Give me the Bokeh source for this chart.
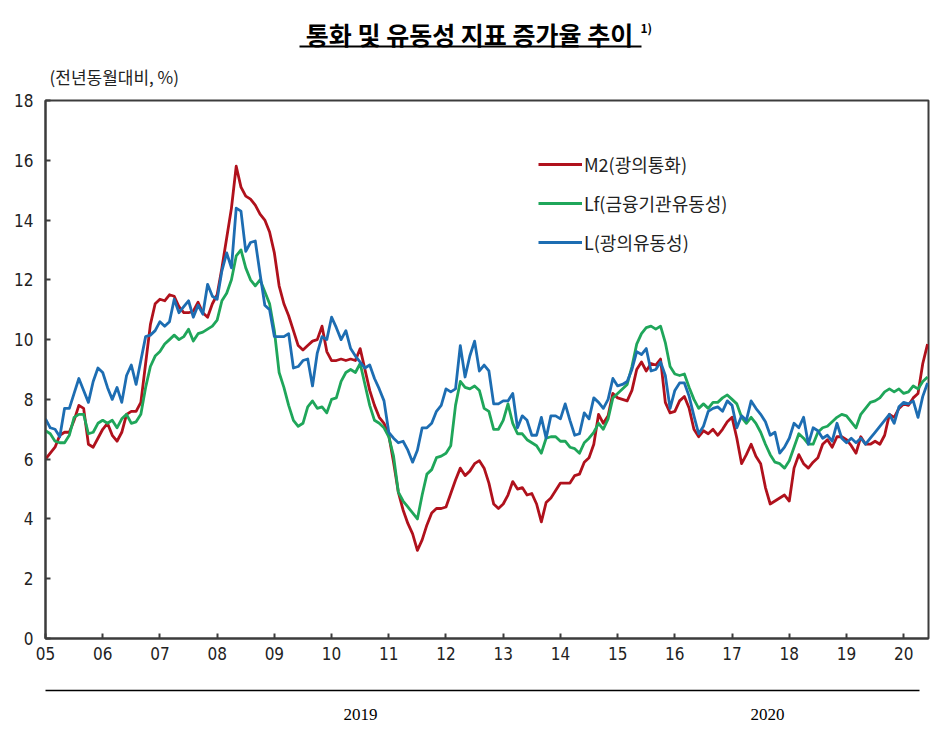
import numpy as np
from bokeh.plotting import figure
from bokeh.models import Range1d, FixedTicker, Legend, LegendItem
from bokeh.layouts import column
from bokeh.embed import file_html
from bokeh.resources import INLINE
from bokeh.core.properties import value

title_text = "통화 및 유동성 지표 증가율 추이"
title_note = "1)"
unit_label = "(전년동월대비, %)"
year_ticks = ["05", "06", "07", "08", "09", "10", "11", "12", "13", "14",
              "15", "16", "17", "18", "19", "20"]
period_labels = ["2019", "2020"]
series_names = ["M2(광의통화)", "Lf(금융기관유동성)", "L(광의유동성)"]

# monthly, Jan 2005 - Jun 2020 (year-on-year %)
m2 = [
    6.0, 6.2, 6.4, 6.8, 6.9, 6.9, 7.3, 7.8, 7.7, 6.5, 6.4, 6.7,
    7.0, 7.2, 6.8, 6.6, 6.9, 7.5, 7.6, 7.6, 7.9, 9.2, 10.5, 11.2,
    11.35, 11.3, 11.5, 11.45, 11.1, 10.9, 10.9, 10.95, 11.25, 10.9, 10.75, 11.2,
    11.5, 12.4, 13.4, 14.4, 15.8, 15.1, 14.8, 14.7, 14.5, 14.2, 14.0, 13.6,
    12.9, 11.8, 11.2, 10.8, 10.3, 9.8, 9.65, 9.8, 9.95, 10.0, 10.45, 9.6,
    9.3, 9.3, 9.35, 9.3, 9.35, 9.3, 9.7, 9.0, 8.3, 7.8, 7.4, 7.2,
    6.8, 5.9, 4.9, 4.3, 3.85, 3.5, 2.95, 3.3, 3.8, 4.2, 4.35, 4.35,
    4.4, 4.85, 5.3, 5.7, 5.45, 5.6, 5.85, 5.95, 5.7, 5.2, 4.5, 4.35,
    4.5, 4.8, 5.25, 5.0, 5.05, 4.8, 4.85, 4.5, 3.9, 4.55, 4.7, 4.95,
    5.2, 5.2, 5.2, 5.45, 5.5, 5.9, 6.05, 6.5, 7.5, 7.2, 7.45, 8.2,
    8.05, 8.0, 7.95, 8.3, 9.0, 9.25, 8.95, 9.2, 9.15, 9.35, 7.9, 7.55,
    7.6, 7.95, 8.1, 7.7, 7.0, 6.75, 6.95, 6.85, 7.0, 6.8, 7.0, 7.25,
    7.4, 6.7, 5.85, 6.15, 6.5, 6.1, 5.85, 5.05, 4.5, 4.6, 4.7, 4.8,
    4.6, 5.7, 6.15, 5.85, 5.7, 5.9, 6.05, 6.5, 6.65, 6.4, 6.75, 6.75,
    6.65, 6.45, 6.2, 6.75, 6.5, 6.5, 6.6, 6.5, 6.8, 7.5, 7.4, 7.7,
    7.85, 7.8, 8.05, 8.2, 9.2, 9.85,
]
lf = [
    6.95, 6.85, 6.6, 6.55, 6.55, 6.8, 7.4, 7.5, 7.5, 6.85, 6.9, 7.2,
    7.3, 7.2, 7.3, 7.05, 7.35, 7.5, 7.2, 7.25, 7.5, 8.4, 9.1, 9.45,
    9.6, 9.85, 10.0, 10.15, 10.0, 10.1, 10.35, 9.95, 10.2, 10.25, 10.35, 10.45,
    10.65, 11.3, 11.55, 12.0, 12.8, 13.0, 12.4, 12.0, 11.8, 12.0, 11.6, 11.2,
    10.3, 8.9, 8.4, 7.8, 7.3, 7.1, 7.2, 7.75, 7.95, 7.7, 7.75, 7.55,
    8.0, 8.05, 8.6, 8.9, 9.0, 8.9, 9.2, 8.5, 7.8, 7.3, 7.2, 7.05,
    6.75, 6.1, 4.9, 4.6, 4.4, 4.2, 4.0, 4.8, 5.5, 5.65, 6.05, 6.1,
    6.2, 6.45, 7.8, 8.6, 8.4, 8.35, 8.45, 8.3, 7.7, 7.6, 7.0, 7.0,
    7.3, 7.85, 7.2, 6.85, 6.85, 6.65, 6.55, 6.45, 6.2, 6.7, 6.75, 6.75,
    6.6, 6.6, 6.4, 6.35, 6.2, 6.55, 6.7, 6.9, 7.2, 7.0, 7.35, 8.05,
    8.2, 8.35, 8.5, 9.1, 9.85, 10.2, 10.4, 10.45, 10.35, 10.45, 9.9, 9.1,
    8.85, 8.8, 8.85, 8.4, 8.0, 7.7, 7.85, 7.7, 7.9, 7.9, 8.05, 8.15,
    8.0, 7.85, 7.4, 7.2, 7.4, 7.2, 6.9, 6.5, 6.15, 5.9, 5.85, 5.7,
    5.95, 6.4, 6.85, 6.7, 6.5, 6.5, 6.9, 7.05, 7.1, 7.25, 7.4, 7.5,
    7.45, 7.25, 7.05, 7.5, 7.7, 7.9, 7.95, 8.05, 8.25, 8.35, 8.25, 8.35,
    8.2, 8.25, 8.45, 8.35, 8.6, 8.75,
]
l_liq = [
    7.35, 7.05, 7.0, 6.75, 7.7, 7.7, 8.2, 8.7, 8.3, 7.9, 8.6, 9.05,
    8.9, 8.4, 8.0, 8.4, 7.9, 8.8, 9.15, 8.5, 9.3, 10.1, 10.15, 10.3,
    10.6, 10.45, 10.6, 11.35, 10.9, 11.1, 11.3, 10.75, 11.15, 10.85, 11.85, 11.45,
    11.35, 12.3, 12.9, 12.4, 14.4, 14.3, 12.95, 13.25, 13.3, 12.2, 11.15, 11.0,
    10.1, 10.1, 10.1, 10.2, 9.05, 9.1, 9.3, 9.35, 8.45, 9.55, 10.1, 10.0,
    10.75, 10.4, 10.0, 10.3, 9.7, 9.45, 9.25, 9.05, 9.15, 8.7, 8.35, 7.95,
    6.9, 6.7, 6.55, 6.6, 6.3, 5.9, 6.3, 7.05, 7.05, 7.2, 7.6, 7.8,
    8.35, 8.25, 8.35, 9.8, 8.75, 9.45, 9.95, 8.95, 9.15, 8.95, 7.85, 7.85,
    7.95, 7.95, 8.2, 7.05, 7.45, 7.3, 6.8, 6.8, 7.4, 6.7, 7.45, 7.45,
    7.35, 7.85, 7.3, 6.8, 6.85, 7.55, 7.35, 8.05, 7.9, 7.7, 8.0, 8.7,
    8.45, 8.5, 8.6, 9.0, 9.6, 9.5, 9.7, 8.95, 9.0, 9.25, 8.8, 7.7,
    8.3, 8.55, 8.55, 8.1, 7.45, 6.85, 7.1, 7.6, 7.7, 7.75, 7.6, 7.95,
    7.8, 7.05, 7.45, 7.3, 7.95, 7.7, 7.5, 7.25, 6.8, 6.9, 6.2, 6.4,
    6.7, 7.2, 7.05, 7.4, 6.5, 7.05, 6.95, 6.7, 6.8, 6.6, 7.2, 6.7,
    6.55, 6.7, 6.55, 6.7, 6.5, 6.7, 6.9, 7.1, 7.3, 7.5, 7.2, 7.75,
    7.9, 7.85, 7.95, 7.4, 8.1, 8.55,
]

colors = ["#B0111C", "#1FA65A", "#1D6DB2"]
NUM_FONT = "DejaVu Sans Condensed"
KR_FONT = "Noto Sans CJK KR"
W = 942
FL, FR = 45, 928   # frame left / right in page pixels (frames are aligned in the column)
TOP_H = 90

# ---------- title band (x in page pixels, y top-down) ----------
top = figure(width=W, height=TOP_H, x_range=Range1d(FL, FR), y_range=Range1d(TOP_H, 0),
             x_axis_type=None, y_axis_type=None, toolbar_location=None,
             output_backend="svg", min_border=0, outline_line_color=None)
top.text(x=[469], y=[33], text=[title_text], text_align="center", text_baseline="middle",
         text_font=value(KR_FONT), text_font_style="bold", text_font_size="25px",
         text_color="black")
top.text(x=[640], y=[27], text=[title_note], text_align="left", text_baseline="middle",
         text_font=value(KR_FONT), text_font_style="bold", text_font_size="12px",
         text_color="black")
top.segment(x0=[299], y0=[46], x1=[641], y1=[46], line_color="black", line_width=2)
top.text(x=[49], y=[76], text=[unit_label], text_align="left", text_baseline="middle",
         text_font=value(KR_FONT), text_font_size="17px", text_color="#222222")

# ---------- main chart ----------
x = np.arange(len(m2))
p = figure(width=W, height=578, x_range=Range1d(0, 185.2), y_range=Range1d(0, 18),
           toolbar_location=None, output_backend="svg",
           min_border_left=FL, min_border_right=W - FR, min_border_top=100 - TOP_H,
           min_border_bottom=30)
p.grid.visible = False
p.outline_line_color = "#3c3c3c"
p.outline_line_width = 2

p.xaxis.ticker = FixedTicker(ticks=[12 * i for i in range(len(year_ticks))])
p.xaxis.major_label_overrides = {12 * i: lab for i, lab in enumerate(year_ticks)}
p.yaxis.ticker = FixedTicker(ticks=list(range(0, 19, 2)))
for ax in (p.xaxis[0], p.yaxis[0]):
    ax.axis_line_color = "#3c3c3c"
    ax.axis_line_width = 2
    ax.major_tick_line_color = "#3c3c3c"
    ax.major_tick_line_width = 2
    ax.major_tick_in = 5
    ax.major_tick_out = 0
    ax.minor_tick_line_color = None
    ax.major_label_text_font = NUM_FONT
    ax.major_label_text_font_size = "17px"
    ax.major_label_text_color = "#222222"
p.xaxis.major_label_standoff = 8
p.yaxis.major_label_standoff = 12

renderers = []
for ys, c in zip([m2, lf, l_liq], colors):
    r = p.line(x, ys, line_color=c, line_width=2.8, line_join="round")
    renderers.append(r)

legend = Legend(items=[LegendItem(label=n, renderers=[r]) for n, r in zip(series_names, renderers)],
                location=(493, 383), orientation="vertical", glyph_width=44, glyph_height=20,
                label_height=20, spacing=13, padding=0, margin=0, label_standoff=2,
                border_line_color=None, background_fill_alpha=0,
                label_text_font=KR_FONT, label_text_font_size="18px",
                label_text_color="#222222")
p.add_layout(legend)

# ---------- bottom band ----------
bot = figure(width=W, height=58, x_range=Range1d(FL, FR), y_range=Range1d(58, 0),
             x_axis_type=None, y_axis_type=None, toolbar_location=None,
             output_backend="svg", min_border=0, outline_line_color=None)
bot.segment(x0=[41], y0=[22], x1=[919], y1=[22], line_color="black", line_width=1.5)
bot.text(x=[360, 767], y=[46, 46], text=period_labels, text_align="center",
         text_baseline="middle", text_font=value("Liberation Serif"),
         text_font_size="17px", text_color="black")

layout = column(top, p, bot, spacing=0)
open("out.html", "w").write(file_html(layout, INLINE))
